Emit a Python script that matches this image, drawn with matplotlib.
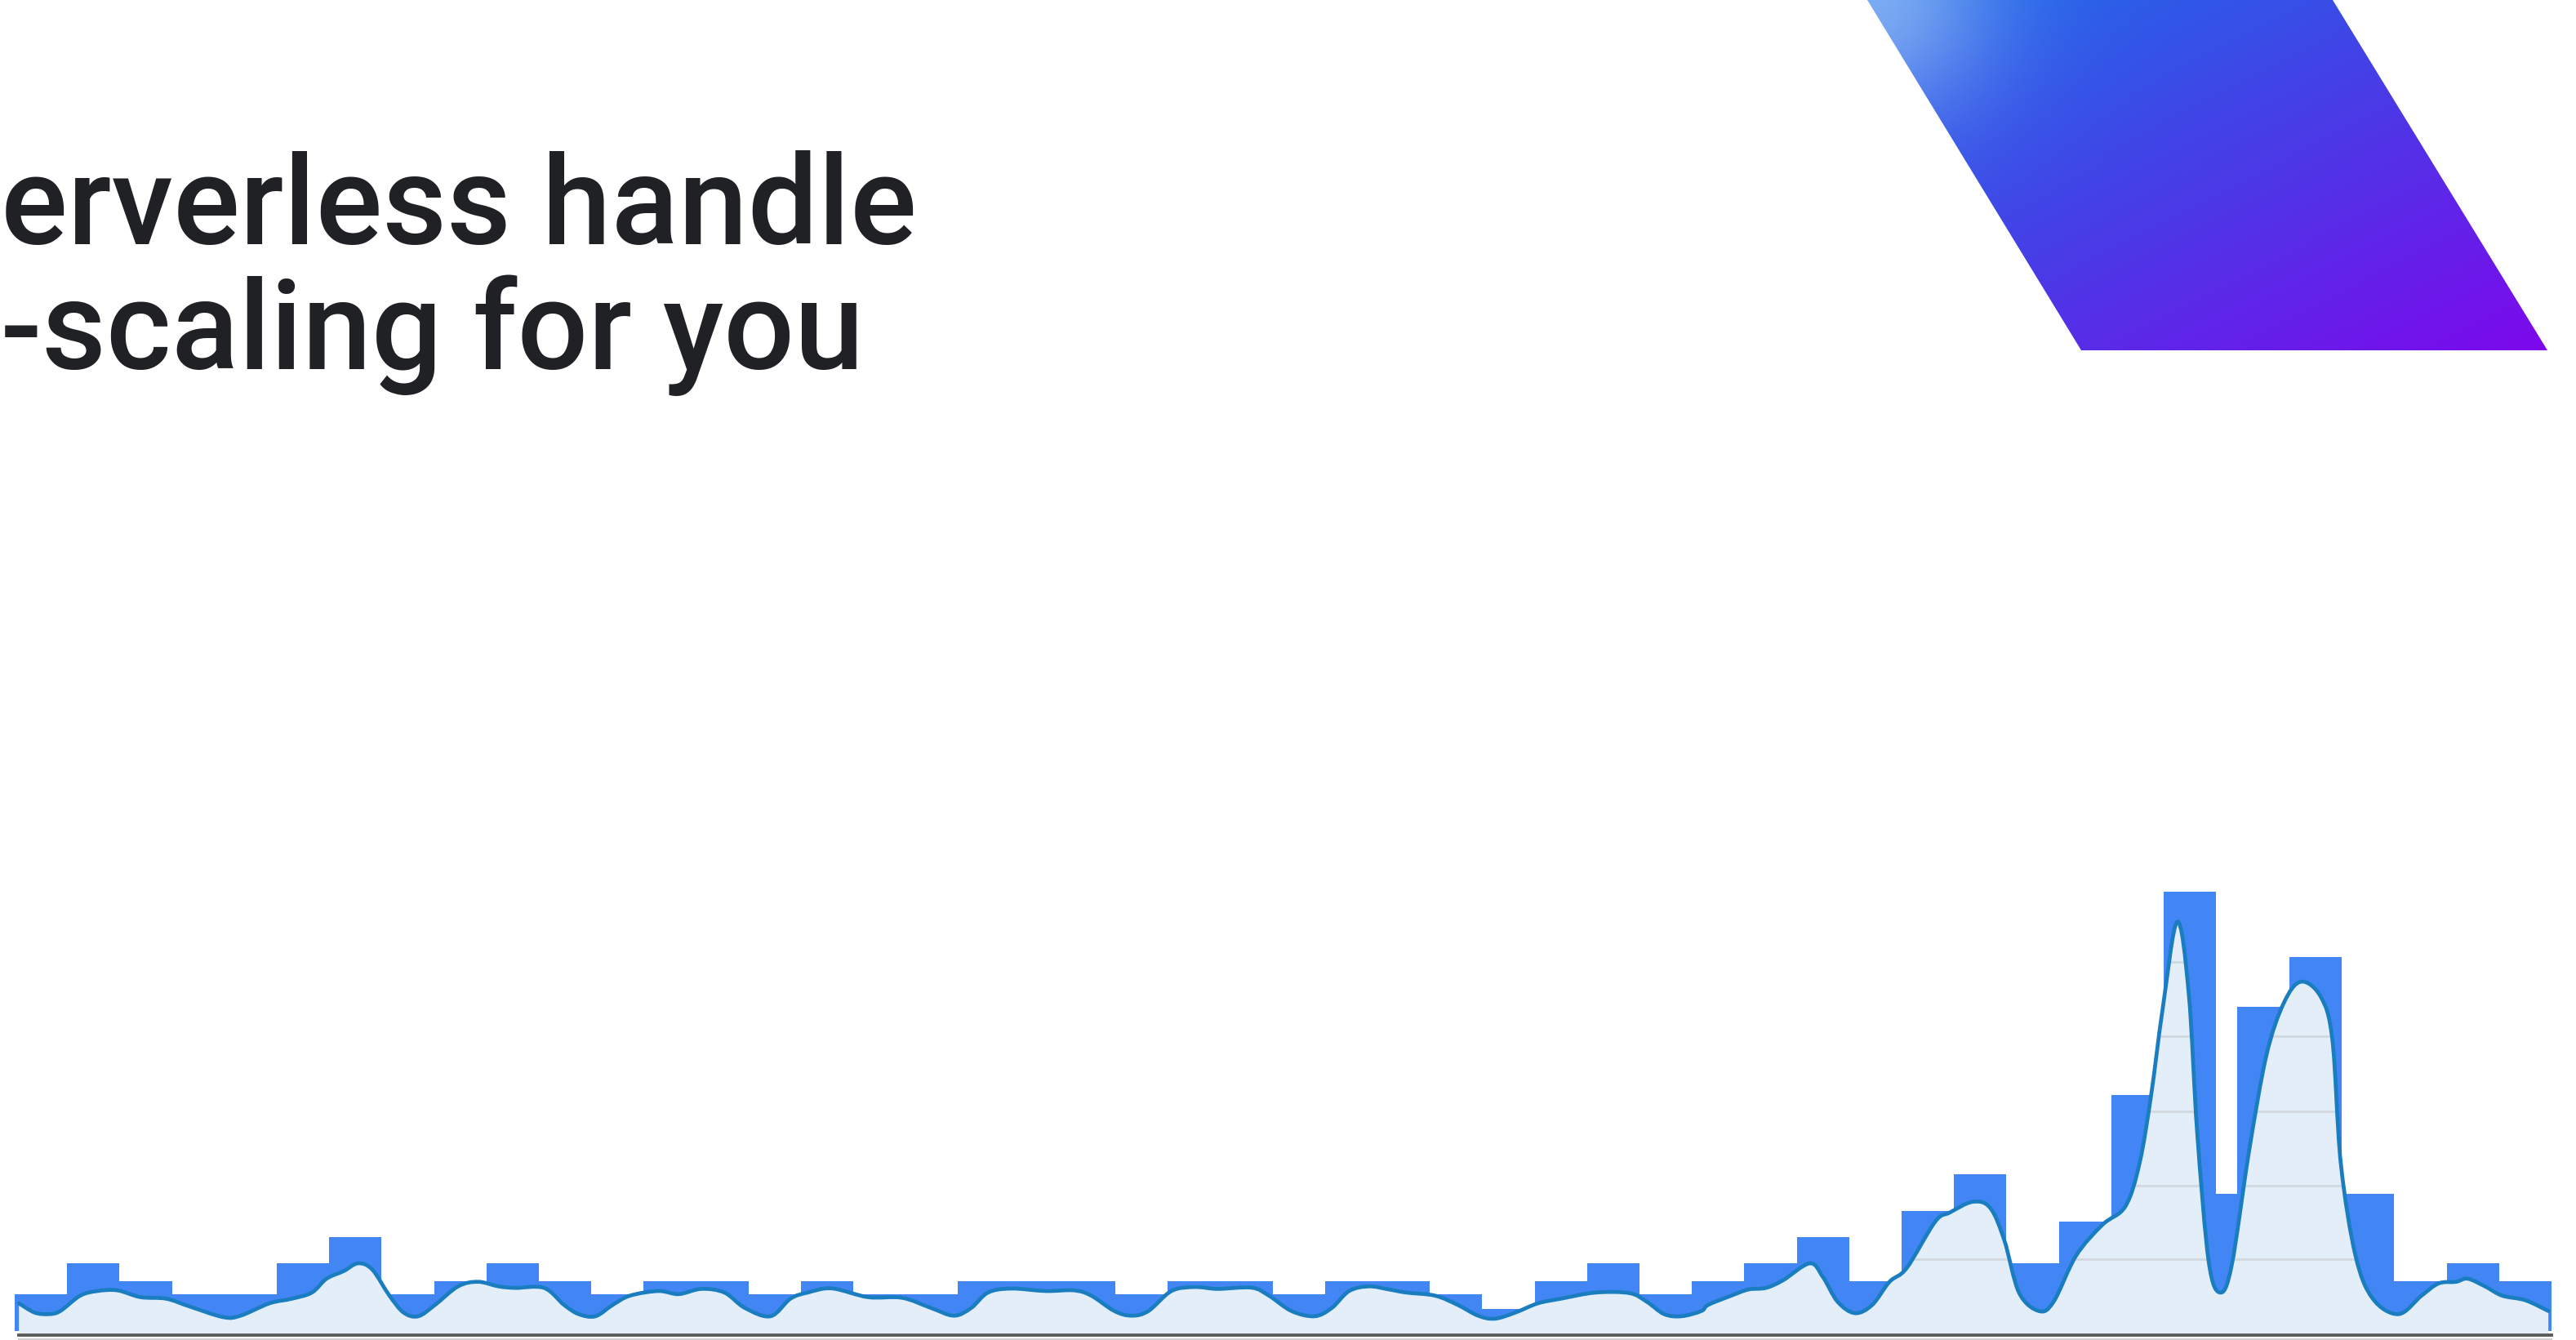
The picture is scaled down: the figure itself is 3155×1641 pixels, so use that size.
import numpy as np
import matplotlib
matplotlib.use("Agg")
import matplotlib.pyplot as plt
from matplotlib.patches import Polygon, PathPatch
from matplotlib.path import Path

W, H = 3155, 1641

# step bars: instances per time slot (height units)
bar_values = [45, 83, 61, 45, 45, 83, 115, 45, 61, 83, 61, 45, 61, 61, 45, 61,
              45, 45, 61, 61, 61, 45, 61, 61, 45, 61, 61, 45, 27, 61, 83, 45,
              61, 83, 115, 61, 147, 192, 83, 134, 289, 538, 168, 397, 458, 168,
              61, 83, 61]
bar_widths = [1.0] * 42 + [0.4] + [1.0] * 6

# request load curve (time, value)
load_t = [0.08, 0.38, 0.65, 0.87, 1.25, 1.58, 1.96, 2.40, 2.89, 3.33, 3.98, 4.31,
          4.86, 5.29, 5.67, 5.95, 6.28, 6.55, 6.82, 7.15, 7.42, 7.70, 8.02, 8.46,
          8.84, 9.23, 9.55, 10.10, 10.48, 10.76, 11.08, 11.41, 11.74, 12.28, 12.67,
          13.10, 13.54, 13.93, 14.42, 14.80, 15.13, 15.59, 16.28, 16.93, 17.48,
          17.92, 18.25, 18.57, 19.01, 19.67, 20.21, 20.54, 20.98, 21.31, 21.63,
          22.07, 22.51, 22.95, 23.60, 23.93, 24.36, 24.80, 25.13, 25.46, 25.84,
          26.22, 26.55, 27.10, 27.53, 27.92, 28.24, 28.63, 29.06, 29.50, 30.16,
          30.81, 31.14, 31.47, 31.80, 32.18, 32.31, 32.75, 33.08, 33.41, 33.74,
          34.25, 34.50, 34.78, 35.11, 35.44, 35.77, 36.10, 36.64, 36.92, 37.36,
          37.69, 37.96, 38.24, 38.62, 38.90, 39.33, 39.83, 40.27, 40.54, 40.76,
          40.98, 41.26, 41.48, 41.64, 41.86, 42.08, 42.30, 42.63, 42.96, 43.29,
          43.62, 44.00, 44.22, 44.38, 44.66, 44.99, 45.48, 45.92, 46.25, 46.58,
          46.80, 47.13, 47.46, 47.90, 48.34]
load_v = [33.9, 22.6, 20.7, 24.5, 43.3, 49.0, 49.8, 41.5, 39.6, 30.2, 17.0, 18.8,
          33.9, 39.6, 47.1, 64.1, 73.5, 82.9, 75.4, 43.3, 22.6, 18.1, 32.0, 54.7,
          60.3, 54.7, 52.8, 52.8, 32.0, 20.7, 18.1, 32.0, 43.3, 49.0, 45.2,
          51.6, 47.1, 28.3, 18.1, 39.6, 47.1, 52.2, 41.5, 40.7, 28.3,
          18.8, 28.3, 47.1, 52.0, 49.0, 49.8, 43.3, 24.5, 18.8, 24.5,
          49.0, 53.9, 51.6, 53.1, 43.3, 24.5, 18.1, 28.3, 49.0, 54.7,
          50.9, 47.1, 43.3, 32.0, 18.8, 15.1, 22.6, 33.9, 39.6, 47.1,
          46.4, 35.8, 20.7, 18.1, 24.5, 32.0, 43.3, 50.9, 52.8, 62.2,
          82.9, 66.0, 35.8, 21.9, 32.0, 60.3, 77.3, 133.8, 145.1, 158.3,
          150.8, 111.2, 47.1, 24.5, 35.8, 92.3, 130.0, 152.7, 205.4, 288.4,
          393.9, 501.3, 412.7, 243.1, 84.8, 47.1, 81.0, 220.5, 337.4, 401.4,
          427.8, 409.0, 356.2, 205.4, 92.3, 39.6, 20.7, 43.3, 58.4, 60.3,
          64.1, 54.7, 43.3, 37.7, 24.5]

grid_levels = [88, 178, 269, 361, 452]

title_lines = ["erverless handle", "-scaling for you"]


def smooth_path(xs, ys):
    # Catmull-Rom through the read points, drawn as cubic Bezier segments
    p = np.column_stack([xs, ys])
    ext = np.vstack([p[0], p, p[-1]])
    verts = [p[0]]
    codes = [Path.MOVETO]
    for i in range(len(p) - 1):
        a, b, c, d = ext[i], ext[i + 1], ext[i + 2], ext[i + 3]
        verts += [b + (c - a) / 6.0, c - (d - b) / 6.0, c]
        codes += [Path.CURVE4] * 3
    return np.array(verts), codes


fig = plt.figure(figsize=(W / 100, H / 100), dpi=100)
fig.patch.set_facecolor("white")

# overlay axes in pixel coordinates (y down)
ov = fig.add_axes([0, 0, 1, 1])
ov.set_xlim(0, W)
ov.set_ylim(H, 0)
ov.axis("off")

# gradient parallelogram
para = [(2287, 0), (2857, 0), (3120, 429), (2549, 429)]
x0, x1, y0, y1 = 2280, 3125, 0, 432
xs = np.linspace(x0, x1, 420)
ys = np.linspace(y0, y1, 220)
gx, gy = np.meshgrid(xs, ys)
u = 0.5 * (gx - 2287) / 833 + 0.5 * gy / 429
u = np.clip(u, 0, 1)
stops = np.array([[26, 112, 233], [72, 60, 230], [125, 8, 236]]) / 255.0
img = np.empty(gx.shape + (3,))
for c in range(3):
    img[..., c] = np.interp(u, [0, 0.5, 1], stops[:, c])
d = np.hypot(gx - 2287, gy)
glow = 0.42 * np.exp(-(d / 150.0) ** 2)
img = img * (1 - glow[..., None]) + glow[..., None]
im = ov.imshow(img, extent=(x0, x1, y1, y0), aspect="auto", zorder=1)
poly = Polygon(para, closed=True, facecolor="none", edgecolor="none")
ov.add_patch(poly)
im.set_clip_path(poly)

# title text, fitted to the measured line width
txt_kw = dict(family=["Roboto", "DejaVu Sans"], fontweight="medium",
              color="#202124", ha="left", va="baseline")
t1 = ov.text(1, 299, title_lines[0], fontsize=100, **txt_kw)
t2 = ov.text(1, 452, title_lines[1], fontsize=100, **txt_kw)
fig.canvas.draw()
r = fig.canvas.get_renderer()
w1 = t1.get_window_extent(r).width
fs = 100 * 1122 / w1
t1.set_fontsize(fs)
t2.set_fontsize(fs)

# chart axes
tmax = sum(bar_widths)
ax = fig.add_axes([18 / W, 0, (3125 - 18) / W, 600 / H])
ax.set_xlim(0, tmax)
ax.set_ylim(-11, 589)
ax.axis("off")

edges = np.concatenate([[0], np.cumsum(bar_widths)[:-1]])
ax.bar(edges, bar_values, width=bar_widths, align="edge", color="#4285f4",
       linewidth=0, zorder=1)

verts, codes = smooth_path(load_t, load_v)
fill_verts = np.vstack([verts, [[load_t[-1], -3], [load_t[0], -3], [load_t[0], -3]]])
fill_codes = codes + [Path.LINETO, Path.LINETO, Path.CLOSEPOLY]
fill_path = Path(fill_verts, fill_codes)
fill = PathPatch(fill_path, facecolor="#e4eef8", edgecolor="none", zorder=2)
ax.add_patch(fill)

grid = ax.hlines(grid_levels, 0, tmax, colors="#d3d9e1", linewidth=2.2, zorder=3)
grid.set_clip_path(fill_path, ax.transData)

line = PathPatch(Path(verts, codes), facecolor="none", edgecolor="#1a7dc0",
                 linewidth=3.4, joinstyle="round", capstyle="round", zorder=4)
ax.add_patch(line)

# axis baseline
ax.plot([0.08, tmax], [-4.5, -4.5], color="#5b5b5b", linewidth=2.8, zorder=5,
        clip_on=False)
ax.plot([0.08, tmax], [-10, -10], color="#cfcfcf", linewidth=1.4, zorder=5,
        clip_on=False)

fig.savefig("out.png", dpi=100, facecolor="white")
